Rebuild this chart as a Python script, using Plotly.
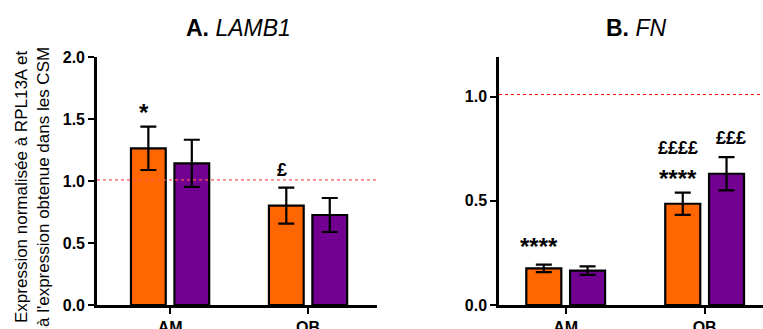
import plotly.graph_objects as go

categories = ["AM", "OB"]

# A. LAMB1
lamb1_orange = [1.264, 0.801]
lamb1_orange_err = [0.175, 0.145]
lamb1_purple = [1.143, 0.726]
lamb1_purple_err = [0.19, 0.137]

# B. FN
fn_orange = [0.176, 0.486]
fn_orange_err = [0.018, 0.053]
fn_purple = [0.165, 0.63]
fn_purple_err = [0.02, 0.08]

ref_level = 1.01

orange = "#FF6600"
purple = "#720091"
font = "Arial, Liberation Sans, sans-serif"

fig = go.Figure()


def add_bars(y, err, color, xa, ya, off):
    fig.add_trace(go.Bar(
        x=categories, y=y, xaxis=xa, yaxis=ya,
        marker=dict(color=color, line=dict(color="black", width=2.2)),
        error_y=dict(type="data", array=err, visible=True, color="black",
                     thickness=2.2, width=8),
        offsetgroup=off, showlegend=False))


add_bars(lamb1_orange, lamb1_orange_err, orange, "x", "y", "1")
add_bars(lamb1_purple, lamb1_purple_err, purple, "x", "y", "2")
add_bars(fn_orange, fn_orange_err, orange, "x2", "y2", "1")
add_bars(fn_purple, fn_purple_err, purple, "x2", "y2", "2")

# reference line at 1
fig.add_shape(type="line", xref="x domain", yref="y", x0=0, x1=1,
              y0=ref_level, y1=ref_level,
              line=dict(color="#FF5555", width=1.3, dash="3px,3px"))
fig.add_shape(type="line", xref="x2 domain", yref="y2", x0=0, x1=1,
              y0=ref_level, y1=ref_level,
              line=dict(color="#FF0000", width=1.1, dash="3px,3px"))

axis_common = dict(showline=True, linecolor="black", linewidth=2.5,
                   ticks="outside", ticklen=6, tickwidth=2, tickcolor="black",
                   showgrid=False, zeroline=False, automargin=False,
                   tickfont=dict(family=font, size=16, color="black"))

bold = lambda s: "<b>" + s + "</b>"

fig.update_layout(
    width=763, height=329,
    margin=dict(l=0, r=0, t=0, b=0),
    plot_bgcolor="white", paper_bgcolor="white",
    bargap=0.37, bargroupgap=0.2, barmode="group",
    xaxis=dict(domain=[0.1271, 0.4941], range=[-0.53, 1.5], anchor="y",
               tickvals=categories, ticktext=[bold(c) for c in categories], **axis_common),
    yaxis=dict(domain=[0.0729, 0.8267], range=[0, 2.0], tickvals=[0, 0.5, 1.0, 1.5, 2.0],
               ticktext=[bold(t) for t in ["0.0", "0.5", "1.0", "1.5", "2.0"]],
               anchor="x", **axis_common),
    xaxis2=dict(domain=[0.654, 1.0], range=[-0.48, 1.42], anchor="y2",
                tickvals=categories, ticktext=[bold(c) for c in categories], **axis_common),
    yaxis2=dict(domain=[0.0729, 0.8267], range=[0, 1.19], tickvals=[0, 0.5, 1.0],
                ticktext=[bold(t) for t in ["0.0", "0.5", "1.0"]], anchor="x2", **axis_common),
)

ann = []
# titles
ann.append(dict(text="<b>A.</b> <i>LAMB1</i>", xref="paper", yref="paper",
                x=238 / 763, y=1 - 28 / 329, xanchor="center", yanchor="middle",
                showarrow=False, font=dict(family=font, size=23, color="black")))
ann.append(dict(text="<b>B.</b> <i>FN</i>", xref="paper", yref="paper",
                x=636 / 763, y=1 - 28 / 329, xanchor="center", yanchor="middle",
                showarrow=False, font=dict(family=font, size=23, color="black")))
# y axis title
ann.append(dict(text="Expression normalisée à RPL13A et<br>à l'expression obtenue dans les CSM",
                xref="paper", yref="paper", x=32 / 763, y=1 - 187 / 329,
                xanchor="center", yanchor="middle",
                textangle=-90, showarrow=False,
                font=dict(family=font, size=17, color="black")))

# significance marks
marks = [
    ("x", "y", -0.19, 1.555, "*", 24),
    ("x", "y", 0.81, 1.09, "£", 18),
    ("x2", "y2", -0.19, 0.28, "****", 24),
    ("x2", "y2", 0.81, 0.607, "****", 24),
    ("x2", "y2", 0.81, 0.755, "££££", 18),
    ("x2", "y2", 1.19, 0.80, "£££", 18),
]
for xa, ya, xv, yv, t, sz in marks:
    ann.append(dict(text=bold(t), xref=xa, yref=ya, x=xv, y=yv,
                    xanchor="center", yanchor="middle",
                    showarrow=False, font=dict(family=font, size=sz, color="black")))

fig.update_layout(annotations=ann)

fig.write_html("out.html", config={"displayModeBar": False},
               post_script="document.body.style.margin='0';")
